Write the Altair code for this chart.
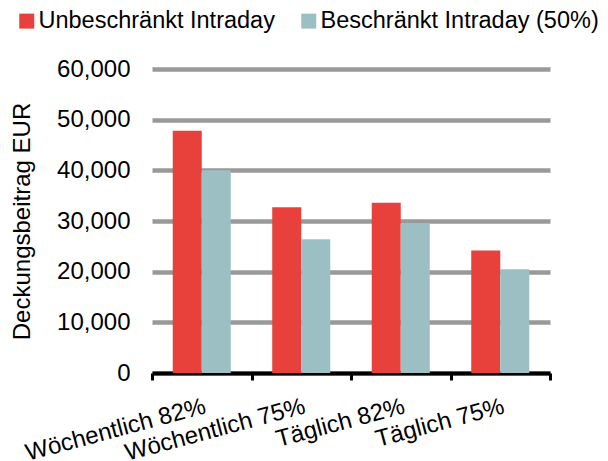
import altair as alt
import pandas as pd

categories = ["Wöchentlich 82%", "Wöchentlich 75%", "Täglich 82%", "Täglich 75%"]
series = ["Unbeschränkt Intraday", "Beschränkt Intraday (50%)"]
unbeschraenkt = [47800, 32700, 33600, 24200]
beschraenkt = [40000, 26400, 29500, 20500]
y_ticks = [0, 10000, 20000, 30000, 40000, 50000, 60000]
colors = ["#E8403A", "#9CBFC3"]

rows = []
for c, a, b in zip(categories, unbeschraenkt, beschraenkt):
    rows.append({"Kategorie": c, "Serie": series[0], "Wert": a})
    rows.append({"Kategorie": c, "Serie": series[1], "Wert": b})
df = pd.DataFrame(rows)

FONT = "Liberation Sans"

chart = alt.Chart(df).mark_bar(stroke=None).encode(
    x=alt.X("Kategorie:N", sort=categories,
            scale=alt.Scale(paddingInner=0, paddingOuter=0),
            axis=alt.Axis(title=None, labelAngle=345, labelAlign="right", labelBaseline="top",
                          labelFontSize=24, labelFont=FONT, labelColor="#000", labelLimit=400,
                          domainColor="#000", domainWidth=4, tickColor="#000", tickWidth=3,
                          tickSize=7, tickBand="extent", labelPadding=14, grid=False)),
    xOffset=alt.XOffset("Serie:N", sort=series,
                        scale=alt.Scale(paddingInner=0, paddingOuter=0.715)),
    y=alt.Y("Wert:Q", scale=alt.Scale(domain=[0, 60000], nice=False),
            axis=alt.Axis(title="Deckungsbeitrag EUR", values=y_ticks, format=",.0f",
                          labelFontSize=24, labelFont=FONT, labelColor="#000", labelPadding=22,
                          titleFontSize=24, titleFont=FONT, titleColor="#000", titleFontWeight="normal",
                          titleAngle=270, titleAlign="center", titleBaseline="bottom",
                          titleX=-118, titleY=152,
                          domain=False, ticks=False, grid=True, gridColor="#999999", gridWidth=4.5)),
    color=alt.Color("Serie:N", sort=series,
                    scale=alt.Scale(domain=series, range=colors),
                    legend=alt.Legend(title=None, orient="none", direction="horizontal",
                                      legendX=-137, legendY=-60, symbolType="square", symbolSize=225,
                                      symbolStrokeWidth=0, labelFontSize=23.5, labelFont=FONT,
                                      labelColor="#000", labelOffset=0, columnPadding=22,
                                      labelLimit=400)),
).properties(
    width=398, height=304,
    autosize=alt.AutoSizeParams(type="none"),
    padding={"left": 144, "top": 61, "right": 50, "bottom": 90},
).configure_view(stroke=None)

chart.save("out.html", embed_options={"renderer": "svg", "actions": False})
